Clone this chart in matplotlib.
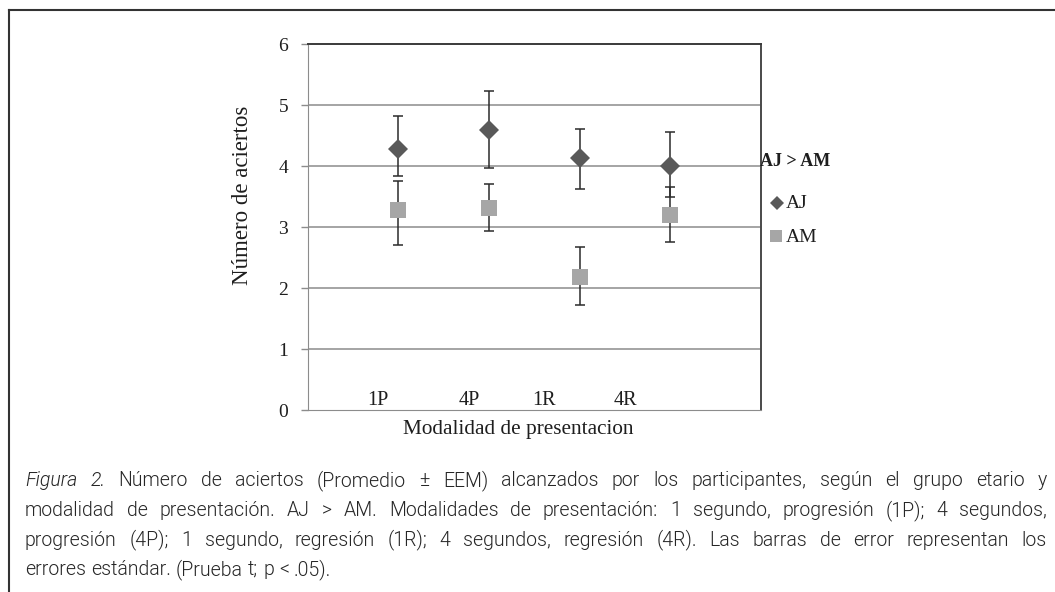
import matplotlib
matplotlib.use('Agg')
import matplotlib.pyplot as plt
from matplotlib.lines import Line2D

# data
conditions = ['1P', '4P', '1R', '4R']
x_pos = [1, 2, 3, 4]
label_x = [0.77, 1.78, 2.61, 3.51]

aj_mean = [4.28, 4.59, 4.13, 4.01]
aj_low = [3.84, 3.97, 3.62, 3.49]
aj_high = [4.82, 5.23, 4.61, 4.57]

am_mean = [3.28, 3.31, 2.19, 3.20]
am_low = [2.71, 2.94, 1.72, 2.76]
am_high = [3.76, 3.71, 2.68, 3.66]

caption_lines = [
    [('Figura', 'italic'), ('2.', 'italic'), ('Número', 'normal'), ('de', 'normal'), ('aciertos', 'normal'),
     ('(Promedio', 'normal'), ('±', 'normal'), ('EEM)', 'normal'), ('alcanzados', 'normal'), ('por', 'normal'),
     ('los', 'normal'), ('participantes,', 'normal'), ('según', 'normal'), ('el', 'normal'), ('grupo', 'normal'),
     ('etario', 'normal'), ('y', 'normal')],
    'modalidad de presentación. AJ > AM. Modalidades de presentación: 1 segundo, progresión (1P); 4 segundos,',
    'progresión (4P); 1 segundo, regresión (1R); 4 segundos, regresión (4R). Las barras de error representan los',
    'errores estándar. (Prueba t; p < .05).',
]

W, H = 1055, 592
serif = 'Liberation Serif'
cap_family = 'Roboto'
dark = '#595959'
light = '#a6a6a6'
txt = '#1e1e1e'

fig = plt.figure(figsize=(W / 100, H / 100), dpi=100)
fig.patch.set_facecolor('white')


def fx(px):
    return px / W


def fy(py):
    return 1 - py / H


ax = fig.add_axes([fx(307.7), fy(410.3), (761 - 307.7) / W, (410.3 - 44.3) / H])
ax.set_xlim(0, 5)
ax.set_ylim(0, 6)

for y in range(1, 6):
    ax.axhline(y, color='#8c8c8c', lw=1.1, zorder=1)

aj_err = [[m - l for m, l in zip(aj_mean, aj_low)], [h - m for m, h in zip(aj_mean, aj_high)]]
am_err = [[m - l for m, l in zip(am_mean, am_low)], [h - m for m, h in zip(am_mean, am_high)]]

ax.errorbar(x_pos, aj_mean, yerr=aj_err, fmt='none', ecolor='#2b2b2b', elinewidth=1.1,
            capsize=3.6, capthick=1.1, zorder=2)
ax.errorbar(x_pos, am_mean, yerr=am_err, fmt='none', ecolor='#2b2b2b', elinewidth=1.1,
            capsize=3.6, capthick=1.1, zorder=2)
ax.plot(x_pos, aj_mean, ls='none', marker='D', ms=10, mew=0, color=dark, zorder=3)
ax.plot(x_pos, am_mean, ls='none', marker='s', ms=12, mew=0, color=light, zorder=3)

for lx, lab in zip(label_x, conditions):
    ax.text(lx, 0.0, lab, ha='center', va='bottom', fontsize=14.5, family=serif, color=txt)

ax.set_xticks([])
ax.set_yticks(range(0, 7))
ax.tick_params(axis='y', direction='out', length=5, width=1, color='#8c8c8c', pad=9,
               labelsize=14, labelcolor=txt)
for lab in ax.get_yticklabels():
    lab.set_family(serif)
ax.spines['left'].set_color('#8c8c8c')
ax.spines['bottom'].set_color('#8c8c8c')
ax.spines['top'].set_color('#3a3a3a')
ax.spines['right'].set_color('#4a4a4a')
ax.spines['top'].set_linewidth(1.4)
ax.spines['right'].set_linewidth(1.4)

fig.text(fx(243), fy(195), 'Número de aciertos', rotation=90, ha='center', va='center',
         fontsize=16.5, family=serif, color=txt)
fig.text(fx(518), fy(434), 'Modalidad de presentacion', ha='center', va='baseline',
         fontsize=15.3, family=serif, color=txt)

# legend
fig.text(fx(760), fy(166), 'AJ > AM', ha='left', va='baseline', fontsize=13,
         family=serif, weight='bold', color=txt)
fig.add_artist(Line2D([fx(777)], [fy(203)], marker='D', ms=7.2, mew=0, color=dark,
                      transform=fig.transFigure))
fig.add_artist(Line2D([fx(776)], [fy(236)], marker='s', ms=9, mew=0, color=light,
                      transform=fig.transFigure))
fig.text(fx(786), fy(208.5), 'AJ', ha='left', va='baseline', fontsize=14, family=serif, color=txt)
fig.text(fx(786), fy(242.5), 'AM', ha='left', va='baseline', fontsize=14, family=serif, color=txt)

# outer frame (top and left edges)
fig.add_artist(Line2D([fx(9), 1], [fy(10), fy(10)], color='#333333', lw=1.5, transform=fig.transFigure))
fig.add_artist(Line2D([fx(9), fx(9)], [fy(10), 0], color='#333333', lw=1.5, transform=fig.transFigure))

# caption, justified like the original
renderer = fig.canvas.get_renderer()
left, right = 25, 1047
baselines = [486.5, 516, 545.5, 575]
word_lines = []
for line in caption_lines:
    if isinstance(line, str):
        word_lines.append([(w, 'normal') for w in line.split(' ')])
    else:
        word_lines.append(line)


def natural_width(words, size):
    ts = [fig.text(0, 0, w, fontsize=size, style=s, family=cap_family, weight=300) for w, s in words]
    total = sum(t.get_window_extent(renderer).width for t in ts)
    for t in ts:
        t.remove()
    return total + (len(words) - 1) * size * 100 / 72 * 0.26


probe = 12
size_last = probe * 0.30 * (right - left) / natural_width(word_lines[-1], probe)
size_fit = probe * (right - left - 6) / max(natural_width(w, probe) for w in word_lines[:-1])
cap_size = min(size_last, size_fit)

for i, words in enumerate(word_lines):
    texts = [fig.text(0, fy(baselines[i]), w, fontsize=cap_size, style=s, family=cap_family,
                      weight=300, color='#262626', va='baseline', ha='left') for w, s in words]
    widths = [t.get_window_extent(renderer).width for t in texts]
    if i < len(word_lines) - 1:
        gap = (right - left - sum(widths)) / (len(words) - 1)
    else:
        gap = cap_size * 100 / 72 * 0.26
    x = left
    for t, w in zip(texts, widths):
        t.set_x(fx(x))
        x += w + gap

fig.savefig('out.png', dpi=100, facecolor='white')
